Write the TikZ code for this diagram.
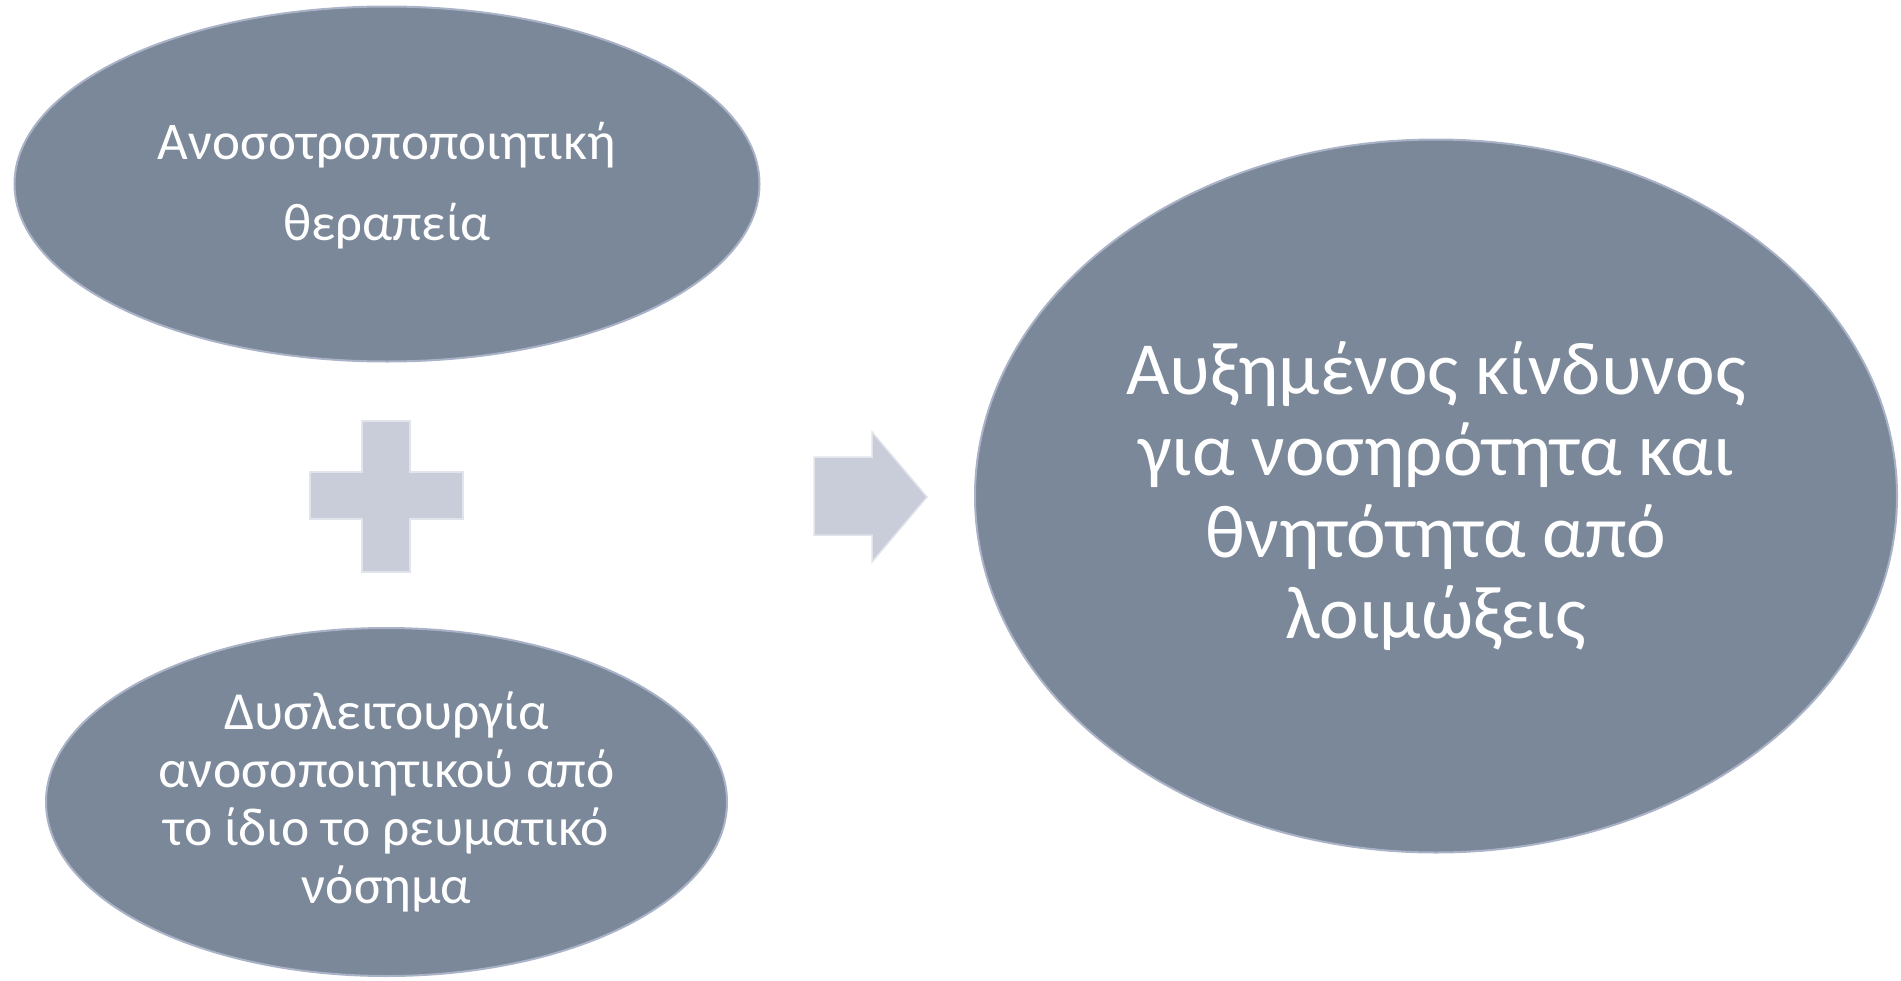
\documentclass[tikz,border=0pt]{standalone}
\usepackage{fontspec}
\setmainfont{Carlito}
\usetikzlibrary{shapes.geometric}
\definecolor{ovalfill}{HTML}{7B889A}
\definecolor{ovaledge}{HTML}{A9B2C6}
\definecolor{symfill}{HTML}{C9CCD9}
\definecolor{symedge}{HTML}{E2E4EC}
\tikzset{
  oval/.style={ellipse, fill=ovalfill, draw=ovaledge, line width=2pt, inner sep=0pt},
  smalltxt/.style={text=white, align=center, font=\fontsize{53.6}{58}\selectfont},
  toptxt/.style={text=white, align=center, font=\fontsize{53}{81}\selectfont},
  bigtxt/.style={text=white, align=center, font=\fontsize{75}{81.5}\selectfont},
  symbol/.style={fill=symfill, draw=symedge, line width=1.5pt, line join=miter}
}
\begin{document}
\begin{tikzpicture}[x=1pt,y=-1pt]
\useasboundingbox (0,0) rectangle (1901,980);
\node[oval, minimum width=745pt, minimum height=355pt] (e1) at (387,184) {};
\node[toptxt] (t1) at ([yshift=-2pt]e1.center) {Ανοσοτροποποιητική\\θεραπεία};
\node[oval, minimum width=681pt, minimum height=348pt] (e2) at (386.5,802) {};
\node[smalltxt] (t2) at (e2.center) {Δυσλειτουργία\\ανοσοποιητικού από\\το ίδιο το ρευματικό\\νόσημα};
\node[oval, minimum width=922pt, minimum height=713pt] (e3) at (1436,496) {};
\node[bigtxt] (t3) at (e3.center) {Αυξημένος κίνδυνος\\για νοσηρότητα και\\θνητότητα από\\λοιμώξεις};
% plus sign
\draw[symbol] (362,421) -- (410,421) -- (410,472) -- (463,472) -- (463,519) -- (410,519)
  -- (410,572) -- (362,572) -- (362,519) -- (310,519) -- (310,472) -- (362,472) -- cycle;
% arrow
\draw[symbol] (814,457) -- (872,457) -- (872,432) -- (927,497) -- (872,562) -- (872,535)
  -- (814,535) -- cycle;
\end{tikzpicture}
\end{document}
